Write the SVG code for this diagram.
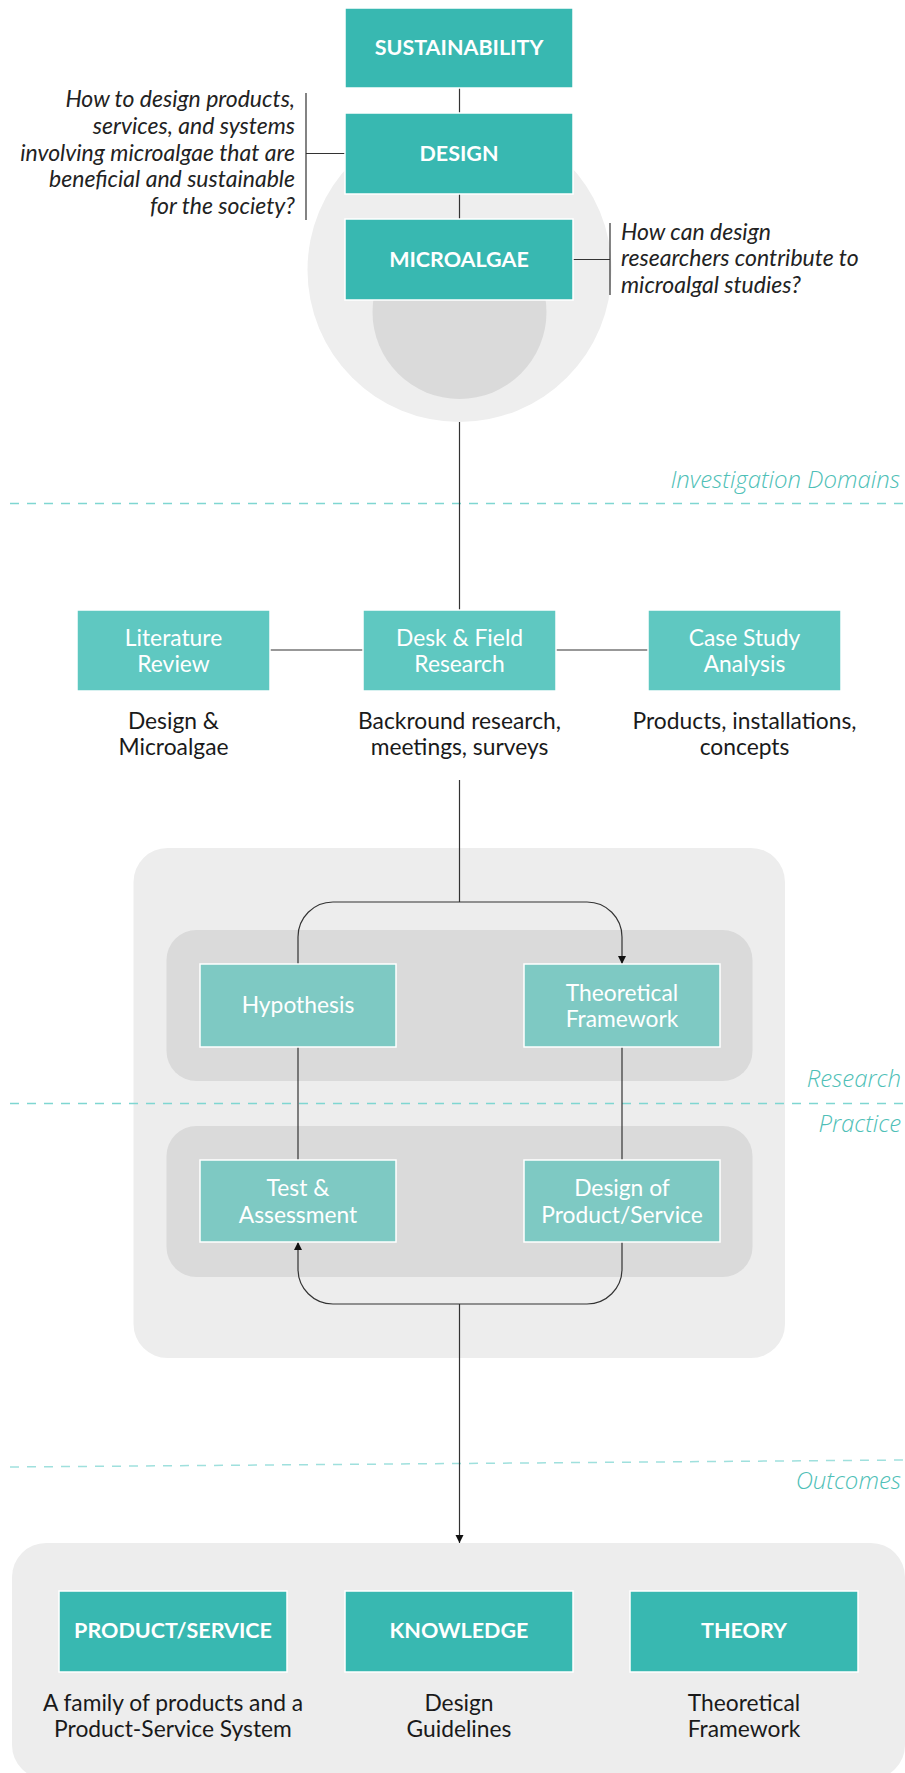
<svg xmlns="http://www.w3.org/2000/svg" width="905" height="1773" viewBox="0 0 905 1773">
  <defs>
    <marker id="arrow" viewBox="0 0 10 10" refX="10" refY="5" markerWidth="8" markerHeight="12" markerUnits="userSpaceOnUse" orient="auto">
      <path d="M0,0 L10,5 L0,10 z" fill="#111"/>
    </marker>
    <style>
      .bg { fill: #ffffff; }
      .panel { fill: #ededed; }
      .panel-in { fill: #dadada; }
      .box-dark { fill: #38b8b1; stroke: #ffffff; stroke-width: 1.5; }
      .box-mid { fill: #5fc8c1; stroke: #ffffff; stroke-width: 1.5; }
      .box-light { fill: #7ec9c3; stroke: #ffffff; stroke-width: 1.5; }
      .head { font-family: Lato, "Liberation Sans", sans-serif; font-weight: bold; font-size: 21.5px; fill: #ffffff; text-anchor: middle; }
      .lbl { font-family: Lato, "Liberation Sans", sans-serif; font-size: 22.8px; fill: #ffffff; text-anchor: middle; }
      .desc { font-family: Lato, "Liberation Sans", sans-serif; font-size: 22.8px; fill: #1a1a1a; text-anchor: middle; }
      .q { font-family: Lato, "Liberation Sans", sans-serif; font-style: italic; font-size: 23px; fill: #222222; }
      .sec { font-family: "Open Sans", Lato, sans-serif; font-style: italic; font-weight: 300; font-size: 24px; fill: #4fbfb7; text-anchor: end; }
      .link { fill: none; stroke: #333333; stroke-width: 1.2; }
      .divider { fill: none; stroke: #7fd6d1; stroke-width: 1.5; stroke-dasharray: 9 8; }
    </style>
  </defs>

  <rect class="bg" x="0" y="0" width="905" height="1773"/>

  <!-- background shapes -->
  <g id="backdrops">
    <circle cx="459.5" cy="270" r="152" fill="#eeeeee"/>
    <circle cx="459.5" cy="312" r="87" fill="#dadada"/>
    <rect class="panel" x="133.5" y="848" width="651.5" height="510" rx="34"/>
    <rect class="panel-in" x="166.5" y="930" width="586" height="151" rx="30"/>
    <rect class="panel-in" x="166.5" y="1126" width="586" height="151" rx="30"/>
    <rect class="panel" x="12" y="1543" width="893" height="236" rx="34"/>
  </g>

  <!-- section dividers -->
  <g id="sections">
    <line class="divider" x1="10" y1="503.5" x2="905" y2="503.5"/>
    <text class="sec" x="900" y="488">Investigation Domains</text>
    <line class="divider" x1="10" y1="1103.5" x2="905" y2="1103.5"/>
    <text class="sec" x="901" y="1087">Research</text>
    <text class="sec" x="901" y="1132">Practice</text>
    <line class="divider" x1="10" y1="1467" x2="905" y2="1460" opacity="0.75"/>
    <text class="sec" x="901" y="1489">Outcomes</text>
  </g>

  <!-- connectors -->
  <g id="connectors">
    <line class="link" x1="459.5" y1="88" x2="459.5" y2="113"/>
    <line class="link" x1="459.5" y1="194" x2="459.5" y2="219"/>
    <path class="link" d="M306,93 V220 M306,153.5 H345"/>
    <path class="link" d="M610,223 V295 M573,259.5 H610"/>
    <line class="link" x1="459.5" y1="422" x2="459.5" y2="610"/>
    <line class="link" x1="270" y1="650" x2="363" y2="650"/>
    <line class="link" x1="556" y1="650" x2="648" y2="650"/>
    <line class="link" x1="459.5" y1="780" x2="459.5" y2="902"/>
    <path class="link" d="M298,964 V937 A35,35 0 0 1 333,902 H587 A35,35 0 0 1 622,937 V964" marker-end="url(#arrow)"/>
    <line class="link" x1="298" y1="1047" x2="298" y2="1160"/>
    <line class="link" x1="622" y1="1047" x2="622" y2="1160"/>
    <path class="link" d="M622,1242 V1269 A35,35 0 0 1 587,1304 H333 A35,35 0 0 1 298,1269 V1242" marker-end="url(#arrow)"/>
    <line class="link" x1="459.5" y1="1304" x2="459.5" y2="1543" marker-end="url(#arrow)"/>
  </g>

  <!-- top stack -->
  <g id="sustainability">
    <rect class="box-dark" x="345" y="8" width="228" height="80"/>
    <text class="head" x="459" y="55">SUSTAINABILITY</text>
  </g>
  <g id="design">
    <rect class="box-dark" x="345" y="113" width="228" height="81"/>
    <text class="head" x="459" y="161">DESIGN</text>
  </g>
  <g id="microalgae">
    <rect class="box-dark" x="345" y="219" width="228" height="81"/>
    <text class="head" x="459" y="267">MICROALGAE</text>
  </g>

  <g id="question-design">
    <text class="q" text-anchor="end" x="295" y="107">How to design products,</text>
    <text class="q" text-anchor="end" x="295" y="134">services, and systems</text>
    <text class="q" text-anchor="end" x="295" y="161">involving microalgae that are</text>
    <text class="q" text-anchor="end" x="295" y="187">beneficial and sustainable</text>
    <text class="q" text-anchor="end" x="295" y="214">for the society?</text>
  </g>
  <g id="question-microalgae">
    <text class="q" x="621" y="240">How can design</text>
    <text class="q" x="621" y="266">researchers contribute to</text>
    <text class="q" x="621" y="293">microalgal studies?</text>
  </g>

  <!-- investigation domains -->
  <g id="literature-review">
    <rect class="box-mid" x="77" y="610" width="193" height="81"/>
    <text class="lbl" x="173.5" y="646">Literature</text>
    <text class="lbl" x="173.5" y="672">Review</text>
    <text class="desc" x="173.5" y="729">Design &amp;</text>
    <text class="desc" x="173.5" y="755">Microalgae</text>
  </g>
  <g id="desk-field-research">
    <rect class="box-mid" x="363" y="610" width="193" height="81"/>
    <text class="lbl" x="459.5" y="646">Desk &amp; Field</text>
    <text class="lbl" x="459.5" y="672">Research</text>
    <text class="desc" x="459.5" y="729">Backround research,</text>
    <text class="desc" x="459.5" y="755">meetings, surveys</text>
  </g>
  <g id="case-study-analysis">
    <rect class="box-mid" x="648" y="610" width="193" height="81"/>
    <text class="lbl" x="744.5" y="646">Case Study</text>
    <text class="lbl" x="744.5" y="672">Analysis</text>
    <text class="desc" x="744.5" y="729">Products, installations,</text>
    <text class="desc" x="744.5" y="755">concepts</text>
  </g>

  <!-- research / practice loop -->
  <g id="hypothesis">
    <rect class="box-light" x="200" y="964" width="196" height="83"/>
    <text class="lbl" x="298" y="1013">Hypothesis</text>
  </g>
  <g id="theoretical-framework">
    <rect class="box-light" x="524" y="964" width="196" height="83"/>
    <text class="lbl" x="622" y="1001">Theoretical</text>
    <text class="lbl" x="622" y="1027">Framework</text>
  </g>
  <g id="test-assessment">
    <rect class="box-light" x="200" y="1160" width="196" height="82"/>
    <text class="lbl" x="298" y="1196">Test &amp;</text>
    <text class="lbl" x="298" y="1223">Assessment</text>
  </g>
  <g id="design-product-service">
    <rect class="box-light" x="524" y="1160" width="196" height="82"/>
    <text class="lbl" x="622" y="1196">Design of</text>
    <text class="lbl" x="622" y="1223">Product/Service</text>
  </g>

  <!-- outcomes -->
  <g id="product-service">
    <rect class="box-dark" x="59" y="1591" width="228" height="81"/>
    <text class="head" x="173" y="1638">PRODUCT/SERVICE</text>
    <text class="desc" x="173" y="1711">A family of products and a</text>
    <text class="desc" x="173" y="1737">Product-Service System</text>
  </g>
  <g id="knowledge">
    <rect class="box-dark" x="345" y="1591" width="228" height="81"/>
    <text class="head" x="459" y="1638">KNOWLEDGE</text>
    <text class="desc" x="459" y="1711">Design</text>
    <text class="desc" x="459" y="1737">Guidelines</text>
  </g>
  <g id="theory">
    <rect class="box-dark" x="630" y="1591" width="228" height="81"/>
    <text class="head" x="744" y="1638">THEORY</text>
    <text class="desc" x="744" y="1711">Theoretical</text>
    <text class="desc" x="744" y="1737">Framework</text>
  </g>
</svg>
